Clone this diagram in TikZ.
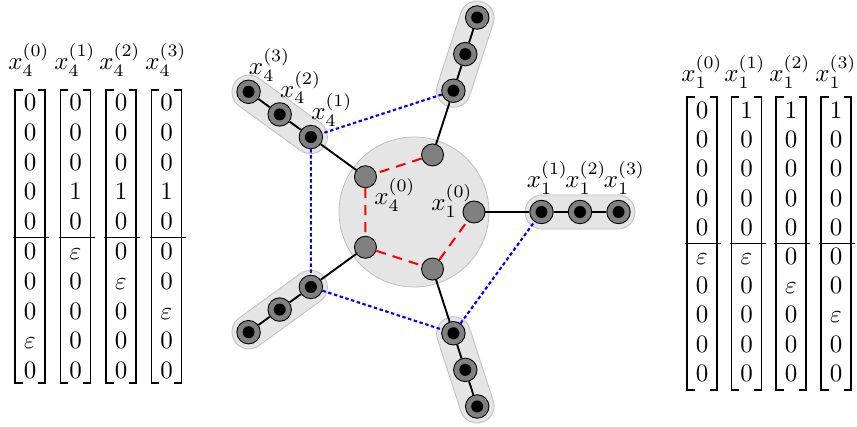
\documentclass[tikz,border=0pt]{standalone}
\usetikzlibrary{calc}
\begin{document}
\begin{tikzpicture}[x=1pt,y=1pt,
  txt/.style={scale=2.5, inner sep=0pt},
  ent/.style={txt, anchor=base},
  brk/.style={line width=1.9pt},
  sep/.style={line width=0.8pt},
  blob/.style={fill=black!10, draw=black!25, line width=0.8pt},
  inode/.style={circle, draw=black, line width=0.9pt, fill=black!50, minimum size=22pt, inner sep=0pt},
  cnode/.style={inode, minimum size=23.5pt, path picture={\fill[black] (path picture bounding box.center) circle (6pt);}},
  link/.style={line width=1.9pt},
  rlink/.style={red, line width=2pt, dash pattern=on 10pt off 7pt},
  blink/.style={blue, line width=2.1pt, dash pattern=on 3.5pt off 2.5pt}]
\useasboundingbox (0,0) rectangle (857,427);
\coordinate (c) at (414,215);
\path[blob] (c) circle (75);
\foreach \a in {0,72,144,216,288}{
  \begin{scope}[shift={(c)}, rotate=\a]
    \path[blob, rounded corners=17pt] (111,-17) rectangle (221,17);
  \end{scope}
}
\foreach \a [count=\k from 0] in {0,72,144,216,288}{
  \node[inode] (i\k) at ($(c)+(\a:60)$) {};
  \foreach \d [count=\j] in {127.5,166,204.5}
    \node[cnode] (c\k\j) at ($(c)+(\a:\d)$) {};
}
\foreach \k in {0,...,4}
  \draw[link] (i\k) -- (c\k1) -- (c\k2) -- (c\k3);
\draw[rlink] (i1) -- (i2) -- (i3) -- (i4) -- (i0);
\draw[blink] (c11) -- (c21) -- (c31) -- (c41) -- (c01);
\node[txt] (l40) at (395,232) {$x_4^{(0)}$};
\node[txt] (l10) at (452,226) {$x_1^{(0)}$};
\foreach \j in {1,2,3}{
  \node[txt] (l1\j) at ($(c0\j)+(6,34)$) {$x_1^{(\j)}$};
  \node[txt] (l4\j) at ($(c2\j)+(21,27)$) {$x_4^{(\j)}$};
}
% left vectors
\foreach \cx [count=\k from 0] in {29,75,120,166}
  \node[txt] (h4\k) at (\cx,367) {$x_4^{(\k)}$};
\foreach \cx/\lst [count=\k from 0] in {30/{0,0,0,0,0,0,0,0,\varepsilon,0},75.5/{0,0,0,1,0,\varepsilon,0,0,0,0},121/{0,0,0,1,0,0,\varepsilon,0,0,0},166.5/{0,0,0,1,0,0,0,\varepsilon,0,0}}{
  \draw[brk] (\cx-7.5,337) -- (\cx-15,337) -- (\cx-15,44) -- (\cx-7.5,44);
  \draw[brk] (\cx+7.5,337) -- (\cx+15,337) -- (\cx+15,44) -- (\cx+7.5,44);
  \draw[sep] (\cx-17,190) -- (\cx+19,190);
  \foreach \e [count=\r from 0] in \lst
    \node[ent] (L\k-\r) at (\cx,316.5-29.8*\r) {$\e$};
}
% right vectors
\foreach \cx [count=\k from 0] in {702,745,790,836}
  \node[txt] (h1\k) at (\cx,355) {$x_1^{(\k)}$};
\foreach \cx/\lst [count=\k from 0] in {702/{0,0,0,0,0,\varepsilon,0,0,0,0},746.5/{1,0,0,0,0,\varepsilon,0,0,0,0},791/{1,0,0,0,0,0,\varepsilon,0,0,0},836/{1,0,0,0,0,0,0,\varepsilon,0,0}}{
  \draw[brk] (\cx-7.5,330) -- (\cx-15,330) -- (\cx-15,37) -- (\cx-7.5,37);
  \draw[brk] (\cx+7.5,330) -- (\cx+15,330) -- (\cx+15,37) -- (\cx+7.5,37);
  \draw[sep] (\cx-17,184) -- (\cx+19,184);
  \foreach \e [count=\r from 0] in \lst
    \node[ent] (R\k-\r) at (\cx,308.5-29.2*\r) {$\e$};
}
\end{tikzpicture}
\end{document}
